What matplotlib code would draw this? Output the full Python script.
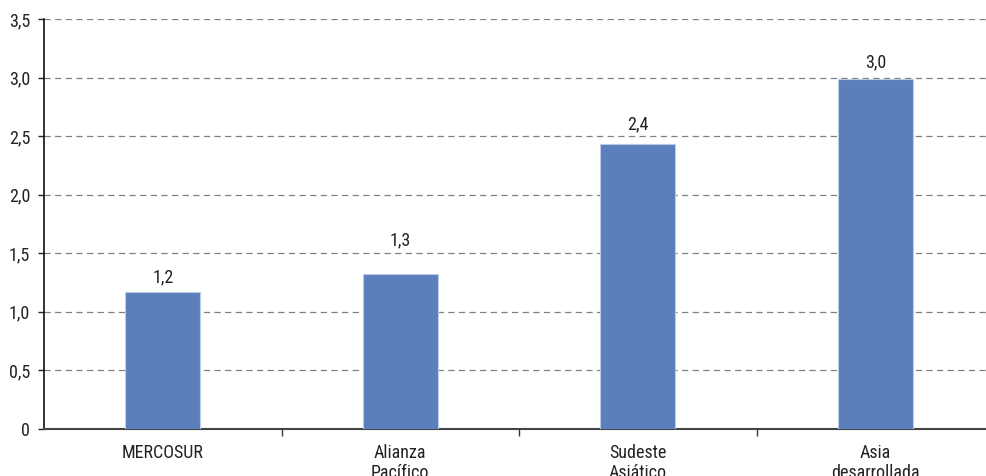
import matplotlib
matplotlib.use("Agg")
import matplotlib.pyplot as plt
from matplotlib.ticker import FuncFormatter, FixedLocator

plt.rcParams['font.family'] = ['Roboto Condensed', 'Archivo Narrow', 'PT Sans Narrow',
                               'Fira Sans Condensed', 'DejaVu Sans']

categories = ["MERCOSUR", "Alianza\nPacífico", "Sudeste\nAsiático", "Asia\ndesarrollada"]
values = [1.17, 1.32, 2.43, 2.99]
value_labels = ["1,2", "1,3", "2,4", "3,0"]
# extra gap above each bar for its label (points), as in the original
label_gaps = [4, 18, 8, 5]

fig = plt.figure(figsize=(9.86, 4.76), dpi=100)
ax = fig.add_axes([44/986, 47/476, 1 - 44/986, (429 - 19)/476])

x = list(range(len(categories)))
ax.bar(x, values, width=0.316, color="#5b7fbb", edgecolor="#b9cbe6", linewidth=0.8, zorder=3)

for xi, v, lab, g in zip(x, values, value_labels, label_gaps):
    ax.annotate(lab, (xi, v), xytext=(0, g), textcoords="offset points",
                ha="center", va="bottom", fontsize=13, color="#222222")

ax.set_xlim(-0.5, 3.466)
ax.set_ylim(0, 3.5)
ax.set_yticks([0, 0.5, 1.0, 1.5, 2.0, 2.5, 3.0, 3.5])
ax.yaxis.set_major_formatter(FuncFormatter(lambda v, p: "0" if v == 0 else f"{v:.1f}".replace(".", ",")))
ax.yaxis.grid(True, linestyle=(0, (5, 3.5)), color="#808080", linewidth=0.9, zorder=0)

ax.set_xticks(x)
ax.set_xticklabels(categories, va="top", linespacing=1.1)
ax.xaxis.set_minor_locator(FixedLocator([0.5, 1.5, 2.5]))
ax.tick_params(axis="x", which="major", length=0, pad=11, labelsize=13, colors="#222222")
ax.tick_params(axis="x", which="minor", length=5, width=1, color="#333333", direction="out")
ax.tick_params(axis="y", length=4, width=1, pad=6, labelsize=13, colors="#222222", color="#222222")

for s in ["top", "right"]:
    ax.spines[s].set_visible(False)
ax.spines["left"].set_color("#111111")
ax.spines["left"].set_linewidth(1.2)
ax.spines["bottom"].set_color("#444444")
ax.spines["bottom"].set_linewidth(1.5)

fig.savefig("out.png", dpi=100)
